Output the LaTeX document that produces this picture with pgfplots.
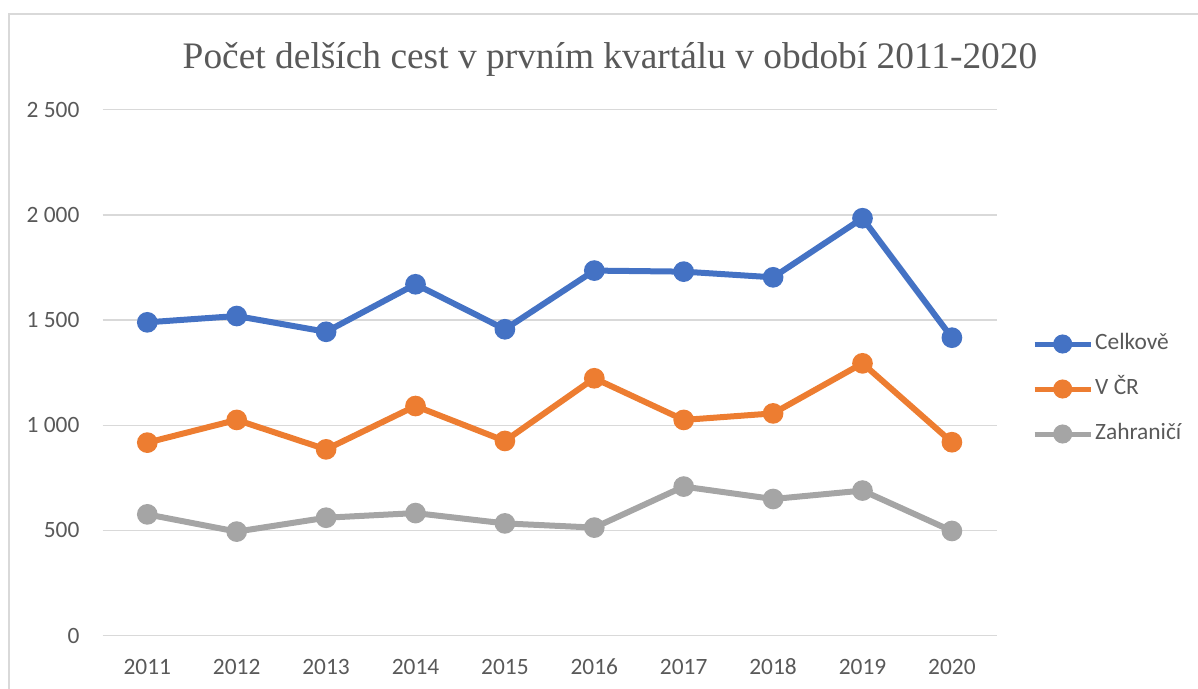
\documentclass[border=0pt]{standalone}
\usepackage{pgfplots}
\pgfplotsset{compat=1.18}
\usepackage{fontspec}
\setmainfont{Carlito}
\newfontfamily\titlefont{Liberation Serif}
\definecolor{cblue}{HTML}{4472C4}
\definecolor{corange}{HTML}{ED7D31}
\definecolor{cgray}{HTML}{A5A5A5}
\definecolor{ctext}{HTML}{595959}
\definecolor{cgrid}{HTML}{D9D9D9}
\begin{document}
\begin{tikzpicture}
\begin{axis}[
  at={(0,0)}, anchor=south west,
  scale only axis,
  width=894bp, height=525.8bp,
  xmin=2010.5, xmax=2020.5,
  ymin=0, ymax=2500,
  xtick={2011,2012,2013,2014,2015,2016,2017,2018,2019,2020},
  xticklabels={2011,2012,2013,2014,2015,2016,2017,2018,2019,2020},
  ytick={0,500,1000,1500,2000,2500},
  yticklabels={0,500,1 000,1 500,2 000,2 500},
  major tick length=0pt,
  axis line style={draw=none},
  ymajorgrids,
  grid style={cgrid, line width=1.3bp},
  yticklabel style={font=\fontsize{23.4bp}{28bp}\selectfont, text=ctext, inner sep=0pt, xshift=-23bp},
  xticklabel style={font=\fontsize{23.4bp}{28bp}\selectfont, text=ctext, inner sep=0pt, anchor=base, yshift=-38.8bp},
  legend style={draw=none, fill=none, at={(1.0396,0.4688)}, anchor=west,
    font=\fontsize{23.4bp}{28bp}\selectfont, text=ctext, inner sep=0pt,
    nodes={inner sep=2bp, text height=16bp, text depth=5bp},
    row sep=20bp},
  legend cell align=left,
  legend image code/.code={\draw[mark repeat=2,mark phase=2,#1,line width=5bp,mark size=7bp] plot coordinates {(0bp,0bp) (28bp,0bp) (56bp,0bp)};},
  every axis plot/.append style={line width=6bp, mark=*, mark size=7.3bp, mark options={solid}},
  clip=false,
]
\addplot[color=cblue] coordinates {(2011,1489) (2012,1519) (2013,1444) (2014,1670) (2015,1456) (2016,1735) (2017,1730) (2018,1703) (2019,1984) (2020,1416)};
\addlegendentry{Celkově}
\addplot[color=corange] coordinates {(2011,917) (2012,1025) (2013,885) (2014,1091) (2015,925) (2016,1223) (2017,1025) (2018,1056) (2019,1294) (2020,919)};
\addlegendentry{V ČR}
\addplot[color=cgray] coordinates {(2011,576) (2012,494) (2013,560) (2014,582) (2015,533) (2016,513) (2017,708) (2018,649) (2019,689) (2020,497)};
\addlegendentry{Zahraničí}
\end{axis}
\draw[cgrid, line width=1.6bp] (-93.6bp,-60bp) -- (-93.6bp,621.5bp) -- (1110bp,621.5bp);
\node[anchor=base, text=ctext, font=\titlefont\fontsize{37.4bp}{45bp}\selectfont, inner sep=0pt] at (507.4bp,567.2bp) {Počet delších cest v prvním kvartálu v období 2011-2020};
\pgfresetboundingbox
\useasboundingbox (-102.6bp,-53.5bp) rectangle (1095.4bp,635.5bp);
\end{tikzpicture}
\end{document}
